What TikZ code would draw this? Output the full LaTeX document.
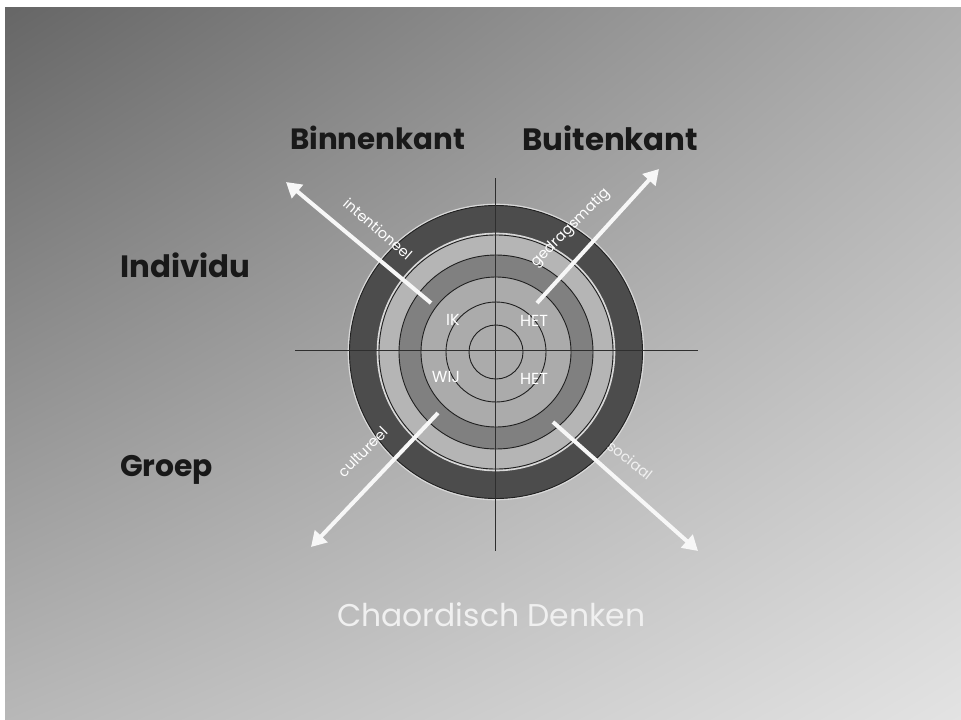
\documentclass[tikz,border=0pt]{standalone}
\usepackage{fontspec}
\usepackage{graphicx}
\setmainfont{Poppins}
\usetikzlibrary{arrows.meta,shadings}
\definecolor{bgul}{gray}{0.40}
\definecolor{bgur}{gray}{0.68}
\definecolor{bgll}{gray}{0.72}
\definecolor{bglr}{gray}{0.89}
\definecolor{ringdark}{gray}{0.30}
\definecolor{ringlight}{gray}{0.71}
\definecolor{ringmid}{gray}{0.50}
\definecolor{ringinner}{gray}{0.67}
\definecolor{axisgray}{gray}{0.18}
\definecolor{headtext}{gray}{0.10}
\definecolor{titletext}{gray}{0.94}
\tikzset{
  heading/.style={font=\bfseries, text=headtext, inner sep=0pt, anchor=west},
  arrowlabel/.style={font=\fontsize{14.5}{14.5}\selectfont, text=white, inner sep=0pt},
  quadlabel/.style={font=\fontsize{16}{16}\selectfont, text=white, inner sep=0pt},
  whitearrow/.style={draw=white!94!gray, line width=4pt, -{Triangle[width=17pt,length=15pt]}},
  axisline/.style={draw=axisgray, line width=0.8pt},
  ringborder/.style={draw=gray!25!black, line width=0.9pt},
  ringhalo/.style={draw=white!70!gray, line width=1.6pt},
}
\begin{document}
\begin{tikzpicture}[x=1pt,y=-1pt]
\useasboundingbox (0,0) rectangle (961,720);
\fill[white] (0,0) rectangle (961,720);
\shade[upper left=bgul, upper right=bgur, lower left=bgll, lower right=bglr] (5,7) rectangle (961,720);

% rings
\coordinate (c) at (496,352);
\draw[ringhalo, fill=ringdark] (c) circle[radius=147.5];
\fill[ringlight] (c) circle[radius=118];
\fill[ringmid] (c) circle[radius=97];
\fill[ringinner] (c) circle[radius=75];
\draw[ringborder] (c) circle[radius=146.5];
\draw[ringhalo] (c) circle[radius=118.5];
\draw[ringborder] (c) circle[radius=117];
\draw[ringborder] (c) circle[radius=97];
\draw[ringborder] (c) circle[radius=75];
\draw[ringborder] (c) circle[radius=50];
\draw[ringborder] (c) circle[radius=27];

% axes
\coordinate (vtop) at (495,178);
\coordinate (vbot) at (495,551);
\coordinate (hleft) at (295,350);
\coordinate (hright) at (698,350);
\draw[axisline] (vtop) -- (vbot);
\draw[axisline] (hleft) -- (hright);

% arrows
\coordinate (a1s) at (431,303);
\coordinate (a1e) at (286,182);
\coordinate (a2s) at (537,303);
\coordinate (a2e) at (659,169);
\coordinate (a3s) at (438,413);
\coordinate (a3e) at (311,547);
\coordinate (a4s) at (553,422);
\coordinate (a4e) at (698,551);
\draw[whitearrow] (a1s) -- (a1e);
\draw[whitearrow] (a2s) -- (a2e);
\draw[whitearrow] (a3s) -- (a3e);
\draw[whitearrow] (a4s) -- (a4e);

% arrow labels
\node[arrowlabel, rotate=-41] (lint) at (378,229) {intentioneel};
\node[arrowlabel, rotate=45] (lged) at (571,228) {gedragsmatig};
\node[arrowlabel, rotate=45] (lcul) at (363,452) {cultureel};
\node[arrowlabel, rotate=-38, text=white!88!gray] (lsoc) at (630,460) {sociaal};

% quadrant labels
\node[quadlabel] (ik) at (453,320) {IK};
\node[quadlabel] (het1) at (534,321) {HET};
\node[quadlabel] (wij) at (446,377) {WIJ};
\node[quadlabel] (het2) at (534,379) {HET};

% headings
\node[heading] (binnen) at (290,138) {\resizebox{175pt}{!}{Binnenkant}};
\node[heading] (buiten) at (522,138) {\resizebox{176pt}{!}{Buitenkant}};
\node[heading] (indiv) at (120,265) {\resizebox{130pt}{!}{Individu}};
\node[heading, anchor=base west] (groep) at (120,476) {\resizebox{93pt}{!}{Groep}};
\node[inner sep=0pt, text=titletext, anchor=base west] (title) at (337,626) {\resizebox{308pt}{!}{Chaordisch Denken}};
\end{tikzpicture}
\end{document}
